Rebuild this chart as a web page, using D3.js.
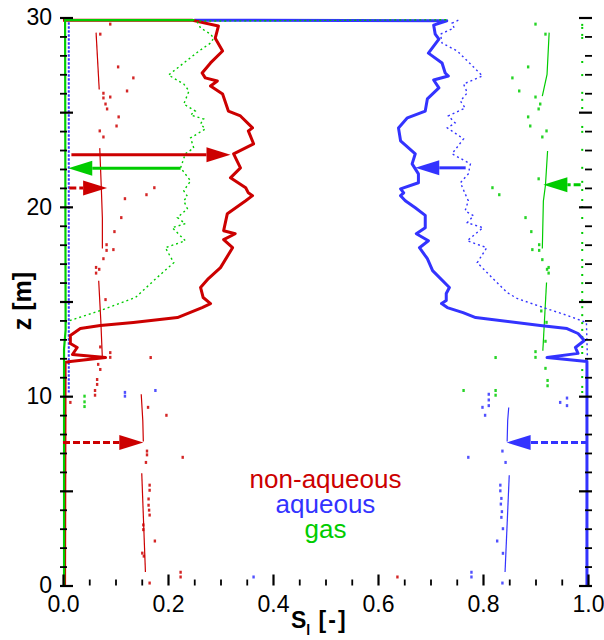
<!DOCTYPE html>
<html>
<head>
<meta charset="utf-8">
<script src="https://cdn.jsdelivr.net/npm/d3@7"></script>
<style>
  body { margin: 0; background: #fff; }
  text { font-family: "Liberation Sans", Arial, Helvetica, sans-serif; }
</style>
</head>
<body>
<svg id="chart"></svg>
<script>
// saturation profiles, [S, z]
var nonAqueousSolid = [[0.0,29.85],[0.247,29.85],[0.296,29.55],[0.290,28.91],[0.304,28.23],[0.281,27.60],[0.265,27.07],[0.271,26.81],[0.294,26.65],[0.281,26.38],[0.304,25.96],[0.315,25.06],[0.338,24.80],[0.361,24.17],[0.353,24.01],[0.363,23.33],[0.325,22.80],[0.338,22.06],[0.319,21.53],[0.348,21.01],[0.353,20.74],[0.361,20.59],[0.348,20.32],[0.313,19.64],[0.306,18.74],[0.328,18.58],[0.306,18.27],[0.323,17.84],[0.300,16.79],[0.277,16.21],[0.262,15.74],[0.267,15.21],[0.281,14.89],[0.265,14.68],[0.218,14.15],[0.134,13.89],[0.071,13.73],[0.033,13.57],[0.014,13.21],[0.014,12.78],[0.027,12.57],[0.018,12.20],[0.081,12.04],[0.014,11.83],[0.004,11.78],[0.003,0]];
var aqueousSolid = [[0.25,29.86],[0.731,29.83],[0.706,29.60],[0.709,29.12],[0.716,28.86],[0.696,28.12],[0.722,27.60],[0.728,27.07],[0.734,26.91],[0.706,26.70],[0.716,26.28],[0.694,25.70],[0.690,25.06],[0.656,24.70],[0.639,24.17],[0.643,23.49],[0.671,22.80],[0.665,22.27],[0.677,21.74],[0.677,21.27],[0.643,20.95],[0.649,20.74],[0.643,20.59],[0.652,20.32],[0.671,19.95],[0.690,19.55],[0.690,18.90],[0.673,18.58],[0.696,18.21],[0.679,17.84],[0.694,17.26],[0.704,16.63],[0.736,15.74],[0.730,15.42],[0.730,15.05],[0.721,14.89],[0.732,14.68],[0.762,14.41],[0.786,14.15],[0.909,13.73],[0.960,13.57],[0.981,13.31],[0.993,12.94],[0.976,12.57],[0.981,12.26],[0.922,12.04],[0.998,11.83],[0.998,0]];
var gasSolid = [[0.25,29.86],[0.004,29.86],[0.005,13.5],[0.002,12.5],[0.002,0]];

var aqueousDotted = [[0.753,29.86],[0.741,29.7],[0.745,29.45],[0.719,29.12],[0.722,28.65],[0.751,28.23],[0.780,27.44],[0.799,26.91],[0.763,26.49],[0.770,26.02],[0.757,25.59],[0.766,25.22],[0.734,24.80],[0.747,24.43],[0.732,24.17],[0.763,23.59],[0.741,22.80],[0.776,22.27],[0.772,21.74],[0.757,21.27],[0.766,20.69],[0.772,20.32],[0.766,19.79],[0.782,19.53],[0.770,19.16],[0.800,18.90],[0.770,18.21],[0.807,17.84],[0.789,17.05],[0.823,16.10],[0.846,15.47],[0.865,15.16],[0.915,14.68],[0.961,14.26],[0.997,13.89],[0.999,11.89]];
var gasDotted = [[0.73,29.88],[0.255,29.81],[0.262,29.45],[0.281,29.12],[0.287,28.91],[0.281,28.65],[0.259,28.23],[0.201,26.96],[0.230,26.49],[0.240,26.12],[0.230,25.43],[0.252,25.06],[0.243,24.85],[0.268,24.64],[0.262,24.38],[0.271,24.11],[0.243,23.64],[0.249,23.11],[0.233,22.80],[0.224,22.06],[0.243,21.37],[0.230,20.85],[0.237,20.55],[0.230,20.32],[0.237,19.90],[0.218,19.43],[0.233,19.11],[0.208,18.90],[0.233,18.21],[0.195,17.84],[0.211,17.05],[0.179,16.26],[0.138,15.21],[0.071,14.52],[0.014,14.00],[0.005,13.9]];
var aqueousNearZero = [[0.011,29.75],[0.011,10.2]];

// measured (scattered) saturations
var nonAqueousTraces = [
  [[0.063,29.2],[0.069,26.2]],
  [[0.070,23.1],[0.073,21.0],[0.075,19.4],[0.075,17.8]],
  [[0.068,16.1],[0.072,14.0],[0.075,12.0]],
  [[0.149,10.1],[0.152,8.7],[0.153,7.6]],
  [[0.150,5.93],[0.157,0.71]]
];
var nonAqueousPoints = [[0.090,29.65],[0.071,29.12],[0.105,27.39],[0.134,26.81],[0.122,26.12],[0.077,26.0],[0.077,25.75],[0.090,25.80],[0.081,25.43],[0.084,25.17],[0.106,24.75],[0.102,24.27],[0.070,24.01],[0.077,23.69],[0.174,21.01],[0.159,20.64],[0.118,20.43],[0.111,19.43],[0.098,18.69],[0.083,18.0],[0.083,17.7],[0.096,17.74],[0.077,17.26],[0.063,16.8],[0.063,16.5],[0.069,16.7],[0.081,15.1],[0.071,12.6],[0.090,12.3],[0.090,12.05],[0.167,12.04],[0.067,11.68],[0.071,11.41],[0.065,10.88],[0.065,10.62],[0.061,10.3],[0.061,10.05],[0.014,9.67],[0.162,9.41],[0.197,8.99],[0.160,7.1],[0.160,6.9],[0.158,6.5],[0.228,6.77],[0.165,5.30],[0.165,5.03],[0.163,4.57],[0.163,4.24],[0.164,3.98],[0.165,3.72],[0.153,3.2],[0.153,2.95],[0.175,2.35],[0.151,1.71],[0.154,1.55],[0.165,0.13],[0.224,0.7],[0.224,0.45],[0.637,0.45]];

var aqueousTraces = [
  [[0.849,9.4],[0.847,8.7],[0.846,7.6]],
  [[0.850,5.82],[0.842,0.71]]
];
var aqueousPoints = [[0.811,10.1],[0.811,9.8],[0.811,9.5],[0.799,9.41],[0.804,8.99],[0.947,9.67],[0.960,9.9],[0.960,9.5],[0.118,10.2],[0.118,10.0],[0.176,10.3],[0.837,7.1],[0.772,6.77],[0.843,6.5],[0.833,5.3],[0.833,5.0],[0.835,4.6],[0.834,4.3],[0.836,3.9],[0.835,3.6],[0.838,3.0],[0.827,2.35],[0.838,1.7],[0.778,0.7],[0.778,0.45],[0.837,0.13],[0.363,0.45]];

var gasTraces = [
  [[0.926,29.2],[0.922,27.0],[0.913,25.85]],
  [[0.923,22.95],[0.919,21.15],[0.915,20.3],[0.913,17.8]],
  [[0.921,16.0],[0.914,12.4]]
];
var gasPoints = [[0.900,29.65],[0.919,29.12],[0.886,27.39],[0.856,26.81],[0.869,26.12],[0.900,25.80],[0.909,25.43],[0.906,25.17],[0.886,24.75],[0.890,24.27],[0.921,24.01],[0.913,23.69],[0.906,21.48],[0.818,21.01],[0.831,20.64],[0.881,19.43],[0.892,18.69],[0.907,18.0],[0.907,17.7],[0.894,17.74],[0.913,17.21],[0.925,16.8],[0.925,16.5],[0.922,16.7],[0.911,14.5],[0.921,13.9],[0.919,12.9],[0.900,12.35],[0.900,12.05],[0.824,12.04],[0.919,11.47],[0.923,10.83],[0.923,10.55],[0.824,10.3],[0.824,10.05],[0.763,10.3],[0.041,10.0],[0.041,9.7],[0.041,9.45]];
var gasEdgeZ = [29.61,29.45,29.08,28.92,27.65,26.96,26.02,25.65,25.22,24.22,23.96,23.01,22.06,21.32,20.89,20.36,19.99,19.41,18.62,18.09,17.72,17.19,16.82,16.40,15.97,15.50,15.07,14.70,14.28,13.86,13.50,13.13,12.60,12.28,11.38,11.01,10.49,10.22];
var gasEdgeS = 0.989;

// arrows: [S start, S end, z]
var nonAqueousArrows = [[0.016,0.319,22.75]];
var nonAqueousArrowsDashed = [[0.012,0.084,21.0],[0.0,0.153,7.55]];
var aqueousArrows = [[0.767,0.671,22.06]];
var aqueousArrowsDashed = [[1.0,0.845,7.55]];
var gasArrows = [[0.224,0.010,22.04]];
var gasArrowsDashed = [[0.986,0.915,21.17]];

var xMajor = [0, 0.2, 0.4, 0.6, 0.8, 1.0];
var yMajor = [0, 5, 10, 15, 20, 25, 30];
var yLabels = [0, 10, 20, 30];
var legendLabels = ["non-aqueous", "aqueous", "gas"];

var red = "#cc0000", blue = "#3333ff", green = "#00cc00";

var svg = d3.select("#chart").attr("width", 604).attr("height", 640);

var x = d3.scaleLinear().domain([0, 1]).range([63, 588]);
var y = d3.scaleLinear().domain([0, 30]).range([585.5, 17.5]);

var line = d3.line().x(d => x(d[0])).y(d => y(d[1]));
var plot = svg.append("g");

function traces(list, color) {
  list.forEach(function(t) {
    plot.append("path").attr("d", line(t)).attr("fill", "none")
      .attr("stroke", color).attr("stroke-width", 1.2);
  });
}
function points(list, color) {
  plot.append("g").selectAll("rect").data(list).enter().append("rect")
    .attr("x", d => x(d[0]) - 1.2)
    .attr("y", d => y(d[1]) - 1.5)
    .attr("width", 2.4).attr("height", 3)
    .attr("fill", color).attr("opacity", 0.85);
}

traces(nonAqueousTraces, red);
points(nonAqueousPoints, red);
traces(aqueousTraces, blue);
points(aqueousPoints, blue);
traces(gasTraces, green);
points(gasPoints, green);

plot.append("g").selectAll("rect").data(gasEdgeZ).enter().append("rect")
  .attr("x", x(gasEdgeS) - 1).attr("y", d => y(d) - 1)
  .attr("width", 2).attr("height", 2).attr("fill", green);

plot.append("path").attr("d", line(aqueousNearZero)).attr("fill", "none")
  .attr("stroke", blue).attr("stroke-width", 2).attr("stroke-dasharray", "2.5,1.5");

// solid profiles
plot.append("path").attr("d", line(aqueousSolid)).attr("fill", "none")
  .attr("stroke", blue).attr("stroke-width", 3).attr("stroke-linejoin", "round");
plot.append("path").attr("d", line(nonAqueousSolid)).attr("fill", "none")
  .attr("stroke", red).attr("stroke-width", 3).attr("stroke-linejoin", "round");
plot.append("path").attr("d", line(gasSolid)).attr("fill", "none")
  .attr("stroke", green).attr("stroke-width", 2.2);

// dotted profiles
plot.append("path").attr("d", line(gasDotted)).attr("fill", "none")
  .attr("stroke", green).attr("stroke-width", 1.4).attr("stroke-dasharray", "2,3");
plot.append("path").attr("d", line(aqueousDotted)).attr("fill", "none")
  .attr("stroke", blue).attr("stroke-width", 1.4).attr("stroke-dasharray", "2,3");

// arrows
function arrows(list, color, dashed) {
  list.forEach(function(a) {
    var x0 = x(a[0]), x1 = x(a[1]), yy = y(a[2]);
    var dir = x1 > x0 ? 1 : -1;
    var hl = 24, hw = 7.5;
    plot.append("line").attr("x1", x0).attr("x2", x1 - dir * hl)
      .attr("y1", yy).attr("y2", yy)
      .attr("stroke", color).attr("stroke-width", 3)
      .attr("stroke-dasharray", dashed ? "7,3" : null);
    plot.append("path")
      .attr("d", `M${x1},${yy}L${x1 - dir * hl},${yy - hw}L${x1 - dir * hl},${yy + hw}Z`)
      .attr("fill", color);
  });
}
arrows(nonAqueousArrows, red, false);
arrows(nonAqueousArrowsDashed, red, true);
arrows(aqueousArrows, blue, false);
arrows(aqueousArrowsDashed, blue, true);
arrows(gasArrows, green, false);
arrows(gasArrowsDashed, green, true);

// axes, ticks inward
var left = x(0) - 3, right = x(1) + 4, top = y(30) - 0.5, bottom = y(0);

function tickAxis(axis, transform) {
  var g = svg.append("g").attr("transform", transform).call(axis);
  g.select(".domain").remove();
  g.selectAll("line").attr("stroke", "#000").attr("stroke-width", 1.8);
  return g;
}

var xMinor = d3.range(0, 1.0001, 0.05).filter(v => Math.abs(v * 5 - Math.round(v * 5)) > 1e-6);
tickAxis(d3.axisBottom(x).tickValues(xMinor).tickSize(-6).tickFormat(""), `translate(0,${bottom})`);
var xg = tickAxis(d3.axisBottom(x).tickValues(xMajor).tickSize(-11).tickPadding(10).tickFormat(d3.format(".1f")), `translate(0,${bottom})`);
xg.selectAll("text").attr("font-size", 23).attr("fill", "#000")
  .attr("font-family", "'Liberation Sans', Arial, sans-serif");
xg.selectAll("line").attr("stroke-width", 2.2);

var yMinor = d3.range(0, 31, 1).filter(v => v % 5 !== 0);
tickAxis(d3.axisRight(y).tickValues(yMinor).tickSize(7).tickFormat(""), `translate(${left},0)`);
var yg = tickAxis(d3.axisRight(y).tickValues(yMajor).tickSize(13).tickFormat(""), `translate(${left},0)`);
yg.selectAll("line").attr("stroke-width", 2.2);
tickAxis(d3.axisLeft(y).tickValues(yMinor).tickSize(7).tickFormat(""), `translate(${right},0)`);
var yr = tickAxis(d3.axisLeft(y).tickValues(yMajor).tickSize(13).tickFormat(""), `translate(${right},0)`);
yr.selectAll("line").attr("stroke-width", 2.2);

var yl = svg.append("g").attr("transform", `translate(${left},0)`)
  .call(d3.axisLeft(y).tickValues(yLabels).tickSize(0).tickPadding(8));
yl.select(".domain").remove();
yl.selectAll("text").attr("font-size", 23).attr("fill", "#000")
  .attr("font-family", "'Liberation Sans', Arial, sans-serif");

// frame
svg.append("rect").attr("x", left).attr("y", top)
  .attr("width", right - left).attr("height", bottom - top)
  .attr("fill", "none").attr("stroke", "#000").attr("stroke-width", 3.5);

// axis titles
var xt = svg.append("text").attr("x", 291).attr("y", 628)
  .attr("font-size", 23).attr("font-weight", "bold");
xt.append("tspan").text("S");
xt.append("tspan").attr("font-size", 14).attr("dy", 7).text("l");
xt.append("tspan").attr("dy", -7).attr("letter-spacing", 2).text(" [-]");

svg.append("text").attr("transform", "translate(31,301) rotate(-90)")
  .attr("text-anchor", "middle").attr("font-size", 25).attr("font-weight", "bold")
  .text("z [m]");

// legend
var legendColors = [red, blue, green];
svg.append("g").selectAll("text").data(legendLabels).enter().append("text")
  .attr("x", 325.5)
  .attr("y", (d, i) => [488, 513, 538][i])
  .attr("text-anchor", "middle")
  .attr("font-size", 26)
  .attr("fill", (d, i) => legendColors[i])
  .text(d => d);
</script>
</body>
</html>
